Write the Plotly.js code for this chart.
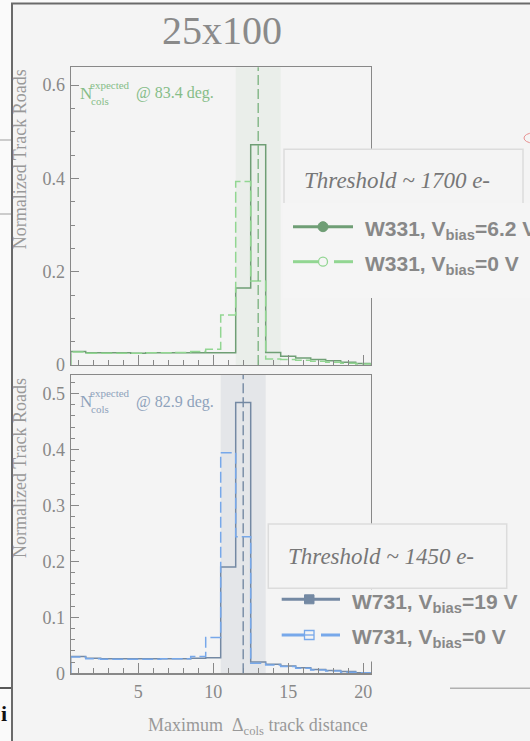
<!DOCTYPE html>
<html><head><meta charset="utf-8">
<script src="https://cdn.plot.ly/plotly-3.0.1.min.js"></script>
<style>html,body{margin:0;padding:0;background:#f4f4f4;overflow:hidden}#chart{width:530px;height:741px;}</style>
</head><body><div id="chart"></div>
<script>
// ---- data ----
const binCenters = [1,2,3,4,5,6,7,8,9,10,11,12,13,14,15,16,17,18,19,20];
const w331_bias62 = [0.029,0.026,0.026,0.026,0.025,0.026,0.026,0.026,0.026,0.026,0.026,0.165,0.472,0.027,0.019,0.015,0.012,0.009,0.006,0.003];
const w331_bias0  = [0.028,0.025,0.025,0.025,0.025,0.026,0.026,0.027,0.029,0.034,0.107,0.393,0.180,0.013,0.012,0.010,0.008,0.006,0.004,0.002];
const w731_bias19 = [0.030,0.027,0.026,0.026,0.026,0.026,0.026,0.026,0.027,0.028,0.190,0.484,0.020,0.016,0.013,0.010,0.007,0.005,0.003,0.001];
const w731_bias0  = [0.029,0.026,0.025,0.025,0.025,0.025,0.026,0.026,0.030,0.064,0.394,0.244,0.018,0.015,0.012,0.009,0.006,0.004,0.002,0.001];
const expectedCols = [13.0, 12.0];
const expectedBandLo = [11.5, 10.5];
const expectedBandHi = [14.5, 13.5];
const angleLabels = ['83.4', '82.9'];
const thresholds = ['1700', '1450'];
const legendTop = ['W331, V<sub>bias</sub>=6.2 V', 'W331, V<sub>bias</sub>=0 V'];
const legendBot = ['W731, V<sub>bias</sub>=19 V', 'W731, V<sub>bias</sub>=0 V'];
const xTickVals = [5,10,15,20];

// ---- helpers ----
const W = 530, H = 741;
const px = x => x / W;
const py = y => 1 - y / H;
function steps(c, v) {
  const xs = [c[0] - 0.5], ys = [0];
  for (let i = 0; i < c.length; i++) { xs.push(c[i] - 0.5); ys.push(v[i]); }
  const last = c[c.length - 1] + 0.5;
  xs.push(last); ys.push(v[v.length - 1]);
  xs.push(last); ys.push(0);
  return {xs, ys};
}

const cTopDark = '#6f9e75', cTopLight = '#92d692';
const cBotDark = '#7489a3', cBotLight = '#77a8ea';
const serif = 'Liberation Serif, Times New Roman, serif';
const sans = 'Liberation Sans, Arial, sans-serif';
const grey = '#888888';

function histTrace(vals, color, dashed, xa, ya, name) {
  const s = steps(binCenters, vals);
  return {x: s.xs, y: s.ys, xaxis: xa, yaxis: ya, mode: 'lines', name: name,
    line: {shape: 'hv', color: color, width: 1.5, dash: dashed ? '11px,4px' : 'solid'},
    hoverinfo: 'skip', showlegend: false};
}

const traces = [
  histTrace(w331_bias62, cTopDark, false, 'x', 'y', 'W331 6.2V'),
  histTrace(w331_bias0, cTopLight, true, 'x', 'y', 'W331 0V'),
  histTrace(w731_bias19, cBotDark, false, 'x2', 'y2', 'W731 19V'),
  histTrace(w731_bias0, cBotLight, true, 'x2', 'y2', 'W731 0V'),
];

const xdom = [px(70.7), px(370.7)];
const axX = (showLabels, anchor) => ({
  domain: xdom, range: [0.5, 20.5], anchor: anchor,
  showline: true, mirror: true, linecolor: grey, linewidth: 1.2,
  showgrid: false, zeroline: false,
  tickmode: 'array', tickvals: xTickVals, showticklabels: showLabels,
  ticks: 'inside', ticklen: 10, tickcolor: grey, tickwidth: 1,
  minor: {dtick: 1, tick0: 0, ticks: 'inside', ticklen: 5, tickcolor: grey, tickwidth: 1, showgrid: false},
  tickfont: {family: serif, size: 18, color: grey}, ticklabelstandoff: 2
});
const axY = (dom, rng, dt, mdt, anchor) => ({
  domain: dom, range: rng, anchor: anchor,
  showline: true, mirror: true, linecolor: grey, linewidth: 1.2,
  showgrid: false, zeroline: false,
  dtick: dt, tick0: 0, ticks: 'inside', ticklen: 8, tickcolor: grey, tickwidth: 1,
  minor: {dtick: mdt, tick0: 0, ticks: 'inside', ticklen: 4, tickcolor: grey, tickwidth: 1, showgrid: false},
  tickfont: {family: serif, size: 18, color: grey}, ticklabelstandoff: 1
});

const shapes = [];
// expected bands + dashed lines
[['x','y','#80b585','#eaeeea'],['x2','y2',cBotDark,'#e4e6e9']].forEach((p, i) => {
  shapes.push({type: 'rect', xref: p[0], yref: p[1] + ' domain', x0: expectedBandLo[i], x1: expectedBandHi[i], y0: 0, y1: 1,
    fillcolor: p[3], line: {width: 0}, layer: 'below'});
  shapes.push({type: 'line', xref: p[0], yref: p[1] + ' domain', x0: expectedCols[i], x1: expectedCols[i], y0: 0, y1: 1,
    line: {color: p[2], width: 1.4, dash: '10px,4px'}, layer: 'above'});
});
// slide frame and background artifacts
function rectPx(x0, y0, x1, y1, fill, lineColor, lw) {
  return {type: 'rect', xref: 'paper', yref: 'paper', x0: px(x0), x1: px(x1), y0: py(y0), y1: py(y1),
    fillcolor: fill, line: {color: lineColor || 'rgba(0,0,0,0)', width: lw || 0}, layer: 'above'};
}
function linePx(x0, y0, x1, y1, color, lw, dash) {
  return {type: 'line', xref: 'paper', yref: 'paper', x0: px(x0), x1: px(x1), y0: py(y0), y1: py(y1),
    line: {color: color, width: lw, dash: dash || 'solid'}, layer: 'above'};
}
shapes.push(rectPx(0, 0, 11, 741, '#fafafa'));
shapes.push(rectPx(0, 0, 530, 3, '#fafafa'));
shapes.push(linePx(12, 3.5, 12, 741, '#6a6a6a', 2));
shapes.push(linePx(11, 3.5, 530, 3.5, '#6a6a6a', 2));
shapes.push(linePx(0, 140, 11, 140, '#bdbdbd', 1.5));
shapes.push(linePx(0, 214, 11, 214, '#bdbdbd', 1.5));
shapes.push(linePx(0, 688, 11, 688, '#222', 1.5));
shapes.push(linePx(450, 688.3, 530, 688.3, '#b0b0b0', 1.5));
shapes.push({type: 'circle', xref: 'paper', yref: 'paper', x0: px(524), x1: px(542), y0: py(133), y1: py(143),
  line: {color: '#e89090', width: 1}, fillcolor: 'rgba(0,0,0,0)', layer: 'above'});
// legend boxes
shapes.push(rectPx(284, 149.3, 523, 205, '#f4f4f4', '#dcdcdc', 1.5));
shapes.push(rectPx(283, 203, 531, 298, '#f5f5f5'));
shapes.push(rectPx(268.3, 524, 506.7, 588.3, '#f4f4f4', '#dcdcdc', 1.5));
shapes.push(rectPx(268.3, 589.3, 531, 661.5, '#f4f4f4'));
// legend glyphs (top)
shapes.push(linePx(293, 226.7, 353, 226.7, cTopDark, 3));
shapes.push({type: 'circle', xref: 'paper', yref: 'paper', x0: px(318), x1: px(328), y0: py(221.7), y1: py(231.7),
  fillcolor: cTopDark, line: {color: cTopDark, width: 1}, layer: 'above'});
shapes.push(linePx(293, 261.7, 318, 261.7, cTopLight, 3));
shapes.push(linePx(334, 261.7, 353, 261.7, cTopLight, 3));
shapes.push({type: 'circle', xref: 'paper', yref: 'paper', x0: px(318.5), x1: px(327.5), y0: py(257.2), y1: py(266.2),
  fillcolor: '#f5f5f5', line: {color: cTopLight, width: 1.3}, layer: 'above'});
// legend glyphs (bottom)
shapes.push(linePx(281.7, 599.3, 340, 599.3, cBotDark, 3));
shapes.push(rectPx(304.5, 594.8, 314, 603.8, cBotDark, cBotDark, 1));
shapes.push(linePx(281.7, 635, 304, 635, cBotLight, 3));
shapes.push(linePx(321, 635, 340, 635, cBotLight, 3));
shapes.push(rectPx(304.5, 630.5, 314, 639.5, '#f4f4f4', cBotLight, 1.3));
shapes.push(linePx(304.5, 635, 314, 635, cBotLight, 1.3));

const annotations = [];
function ann(text, x, y, xa, ya, font, extra) {
  annotations.push(Object.assign({text: text, xref: 'paper', yref: 'paper', x: px(x), y: py(y),
    xanchor: xa, yanchor: ya, showarrow: false, font: font}, extra || {}));
}
ann('25x100', 222, 30, 'center', 'middle', {family: serif, size: 40, color: '#8a8a8a'});
// N expected labels
const nCols = ['#86bd88', '#8ea2bb'];
const nY = [93.3, 401.7];
[0, 1].forEach(i => {
  const f = s => ({family: serif, size: s, color: nCols[i]});
  ann('N', 78, nY[i], 'left', 'middle', f(17));
  ann('expected', 88, nY[i] - 8.5, 'left', 'middle', f(11));
  ann('cols', 89, nY[i] + 7.5, 'left', 'middle', f(11));
  ann('@ ' + angleLabels[i] + ' deg.', 134, nY[i], 'left', 'middle', f(16));
});
// axis titles
ann('Normalized Track Roads', 20, 67.3, 'center', 'top', {family: serif, size: 18, color: '#999'}, {textangle: -90});
ann('Normalized Track Roads', 20, 376, 'center', 'top', {family: serif, size: 18, color: '#999'}, {textangle: -90});
ann('Maximum  Δ<sub>cols</sub> track distance', 370, 726, 'right', 'middle', {family: serif, size: 18, color: '#999'});
// legend texts
const thFont = {family: serif, size: 23, color: '#777', style: 'italic'};
ann('Threshold ~ ' + thresholds[0] + ' e-', 302, 180.7, 'left', 'middle', thFont);
ann('Threshold ~ ' + thresholds[1] + ' e-', 286, 556, 'left', 'middle', thFont);
const lgFont = {family: sans, size: 21, color: '#888', weight: 'bold'};
ann(legendTop[0], 363, 230, 'left', 'middle', lgFont);
ann(legendTop[1], 363, 265, 'left', 'middle', lgFont);
ann(legendBot[0], 350, 602.5, 'left', 'middle', lgFont);
ann(legendBot[1], 350, 637.5, 'left', 'middle', lgFont);
ann('i', 4, 713, 'center', 'middle', {family: serif, size: 22, color: '#111', weight: 'bold'});

const layout = {
  width: W, height: H, margin: {l: 0, r: 0, t: 0, b: 0},
  paper_bgcolor: '#f4f4f4', plot_bgcolor: '#f4f4f4', showlegend: false,
  xaxis: axX(false, 'y'), yaxis: axY([py(365), py(67.3)], [0, 0.638], 0.2, 0.05, 'x'),
  xaxis2: axX(true, 'y2'), yaxis2: axY([py(673.3), py(375)], [0, 0.533], 0.1, 0.02, 'x2'),
  shapes: shapes, annotations: annotations
};
Plotly.newPlot('chart', traces, layout, {staticPlot: true, displayModeBar: false});
</script></body></html>
